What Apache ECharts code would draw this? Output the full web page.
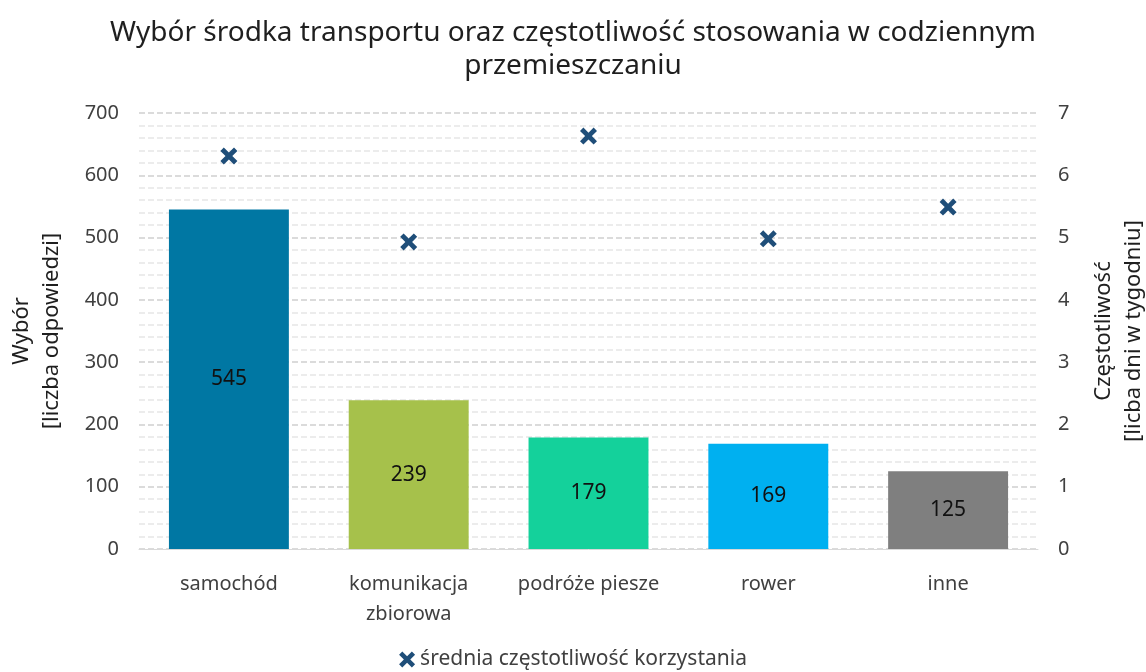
<!DOCTYPE html>
<html>
<head>
<meta charset="utf-8">
<script src="https://cdn.jsdelivr.net/npm/echarts@6/dist/echarts.min.js"></script>
<style>
  html, body { margin: 0; padding: 0; background: #fff; }
  #chart { width: 1146px; height: 672px; }
</style>
</head>
<body>
<div id="chart"></div>
<script>
const categories = ['samochód', 'komunikacja\nzbiorowa', 'podróże piesze', 'rower', 'inne']
const choiceCounts = [545, 239, 179, 169, 125]
const frequency = [6.31, 4.93, 6.63, 4.98, 5.49]
const barColors = ['#0077A3', '#A6C14B', '#14D19B', '#00B0F0', '#7F7F7F']

const FONT = '"Noto Sans", "Open Sans", sans-serif'
const TEXT = '#404040'
const CROSS = 'path://M0,2 L2,0 L5,3 L8,0 L10,2 L7,5 L10,8 L8,10 L5,7 L2,10 L0,8 L3,5 Z'

const chart = echarts.init(document.getElementById('chart'))

chart.setOption({
  animation: false,
  textStyle: { fontFamily: FONT },
  title: {
    text: 'Wybór środka transportu oraz częstotliwość stosowania w codziennym\nprzemieszczaniu',
    left: 'center',
    top: 12,
    textStyle: {
      color: '#1f1f1f',
      fontSize: 28,
      fontWeight: 'normal',
      lineHeight: 33,
      fontFamily: FONT,
    },
  },
  legend: {
    top: 644,
    left: 'center',
    itemWidth: 16,
    itemHeight: 16,
    itemGap: 5,
    data: [{ name: 'średnia częstotliwość korzystania', icon: CROSS }],
    textStyle: { color: TEXT, fontSize: 21, fontFamily: FONT },
  },
  grid: {
    left: 139,
    right: 108,
    top: 113,
    bottom: 123,
    outerBoundsMode: 'none',
  },
  xAxis: {
    type: 'category',
    data: categories,
    axisLine: { lineStyle: { color: '#d9d9d9', width: 1 } },
    axisTick: { show: false },
    axisLabel: {
      interval: 0,
      color: TEXT,
      fontSize: 20,
      margin: 20,
      lineHeight: 30,
      fontFamily: FONT,
    },
  },
  yAxis: [
    {
      type: 'value',
      min: 0,
      max: 700,
      interval: 100,
      name: 'Wybór\n[liczba odpowiedzi]',
      nameLocation: 'middle',
      nameGap: 72,
      nameRotate: 90,
      nameTextStyle: { color: '#1f1f1f', fontSize: 22, lineHeight: 30, fontFamily: FONT },
      axisLine: { show: false },
      axisTick: { show: false },
      axisLabel: { color: TEXT, fontSize: 20, margin: 20, fontFamily: FONT },
      splitLine: { lineStyle: { color: '#cfcfcf', type: 'dashed', width: 1.5 } },
      minorTick: { show: false, splitNumber: 5 },
      minorSplitLine: { show: true, lineStyle: { color: '#e6e6e6', type: 'dashed', width: 1.5 } },
    },
    {
      type: 'value',
      min: 0,
      max: 7,
      interval: 1,
      name: 'Częstotliwość\n[licba dni w tygodniu]',
      nameLocation: 'middle',
      nameGap: 51,
      nameRotate: 90,
      nameTextStyle: { color: '#1f1f1f', fontSize: 22, lineHeight: 30, fontFamily: FONT },
      axisLine: { show: false },
      axisTick: { show: false },
      axisLabel: { color: TEXT, fontSize: 20, margin: 20, fontFamily: FONT },
      splitLine: { show: false },
    },
  ],
  series: [
    {
      name: 'wybór',
      type: 'bar',
      barWidth: '66.7%',
      data: choiceCounts.map((value, i) => ({
        value,
        itemStyle: { color: barColors[i] },
      })),
      label: {
        show: true,
        position: 'inside',
        color: '#111',
        fontSize: 21,
        fontFamily: FONT,
      },
    },
    {
      name: 'średnia częstotliwość korzystania',
      type: 'scatter',
      yAxisIndex: 1,
      symbol: CROSS,
      symbolSize: 17,
      itemStyle: { color: '#1F4E79', opacity: 1 },
      data: frequency,
    },
  ],
})
</script>
</body>
</html>
